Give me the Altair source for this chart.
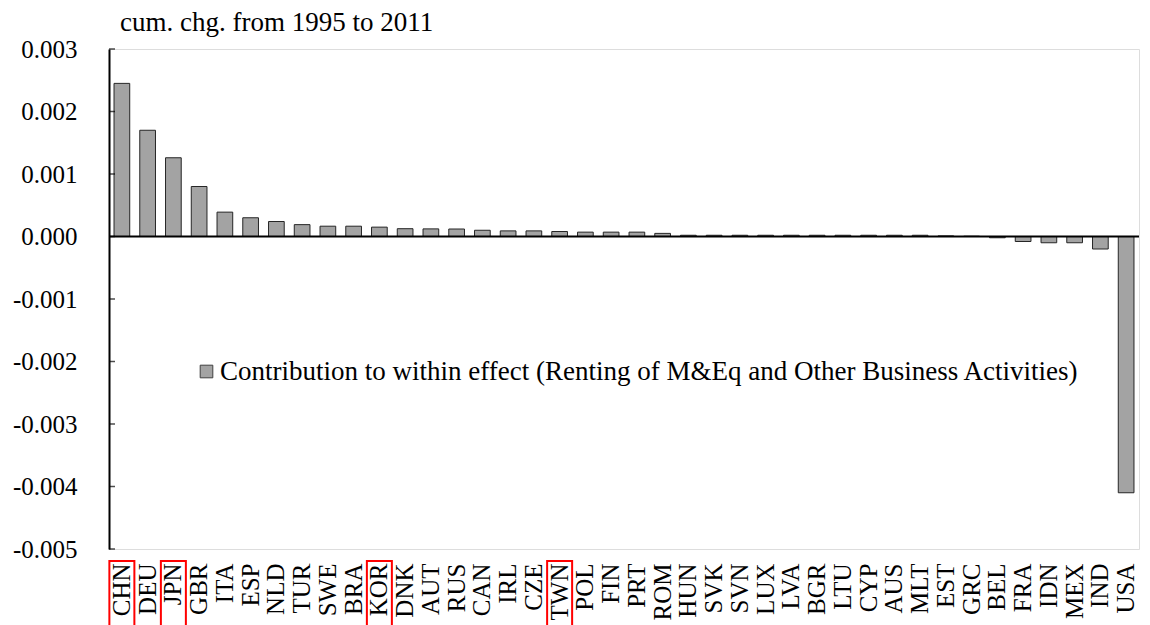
import altair as alt
import pandas as pd

countries = ["CHN", "DEU", "JPN", "GBR", "ITA", "ESP", "NLD", "TUR", "SWE", "BRA",
             "KOR", "DNK", "AUT", "RUS", "CAN", "IRL", "CZE", "TWN", "POL", "FIN",
             "PRT", "ROM", "HUN", "SVK", "SVN", "LUX", "LVA", "BGR", "LTU", "CYP",
             "AUS", "MLT", "EST", "GRC", "BEL", "FRA", "IDN", "MEX", "IND", "USA"]
values = [0.00245, 0.0017, 0.00126, 0.0008, 0.00039, 0.0003, 0.00024, 0.00019, 0.000165, 0.000165,
          0.00015, 0.000125, 0.000122, 0.00012, 0.0001, 0.00009, 0.00009, 0.00008, 0.00007, 0.00007,
          0.00007, 0.00005, 0.00002, 0.00002, 0.00002, 0.00002, 0.00002, 0.00002, 0.00002, 0.00002,
          0.00002, 0.00002, 0.00001, 0.000005, -0.00002, -0.00008, -0.0001, -0.0001, -0.0002, -0.0041]
highlighted = ["CHN", "JPN", "KOR", "TWN"]
y_ticks = [-0.005, -0.004, -0.003, -0.002, -0.001, 0.0, 0.001, 0.002, 0.003]
series_name = "Contribution to within effect (Renting of M&Eq and Other Business Activities)"
title_text = "cum. chg. from 1995 to 2011"

FONT = "Liberation Serif"

df = pd.DataFrame({"country": countries, "value": values, "series": [series_name] * len(countries)})
df_hl = pd.DataFrame({"country": highlighted})
df_ticks = pd.DataFrame({"v": y_ticks})
df_zero = pd.DataFrame({"v": [0.0]})

yscale = alt.Scale(domain=[-0.005, 0.003], nice=False, zero=False)
xscale = alt.Scale(domain=countries, paddingInner=0.39, paddingOuter=0.195)

x_enc = alt.X("country:N", sort=countries, scale=xscale,
              axis=alt.Axis(title=None, labelAngle=270, labelAlign="right", labelBaseline="middle",
                            labelFont=FONT, labelFontSize=25, labelColor="black", labelPadding=14,
                            ticks=False, domain=False, labelOverlap=False))

bars = alt.Chart(df).mark_bar(stroke="#262626", strokeWidth=1).encode(
    x=x_enc,
    y=alt.Y("value:Q", scale=yscale,
            axis=alt.Axis(title=None, values=y_ticks, labelExpr="replace(format(datum.value, '.3f'), '\u2212', '-')",
                          labelFont=FONT, labelFontSize=25, labelColor="black", labelPadding=32,
                          ticks=False, grid=False, domain=True, domainColor="black", domainWidth=2)),
    color=alt.Color("series:N", scale=alt.Scale(range=["#a3a3a3"]),
                    legend=alt.Legend(title=None, orient="none", legendX=84, legendY=309,
                                      symbolType="square", symbolSize=160, symbolStrokeColor="#404040",
                                      symbolStrokeWidth=1, labelFont=FONT, labelFontSize=27,
                                      labelColor="black", labelOffset=0, labelLimit=2000, padding=0)),
)

zero = alt.Chart(df_zero).mark_rule(color="black", strokeWidth=2).encode(y=alt.Y("v:Q", scale=yscale))

ticks = alt.Chart(df_ticks).mark_tick(orient="horizontal", color="black", size=6, thickness=1.5).encode(
    y=alt.Y("v:Q", scale=yscale), x=alt.value(3))

boxes = alt.Chart(df_hl).mark_bar(size=25, filled=False, stroke="red", strokeWidth=2).encode(
    x=alt.X("country:N", sort=countries, scale=xscale),
    y=alt.value(512), y2=alt.value(640))

chart = alt.layer(bars, zero, ticks, boxes).properties(
    width=1030, height=500,
    title=alt.Title(title_text, anchor="start", frame="group", dx=11, font=FONT, fontSize=27,
                    fontWeight="normal", color="black", offset=0),
    padding={"left": 4, "top": 1, "right": 1, "bottom": 5},
).configure_view(stroke="black", strokeWidth=2).configure(background="white")

chart.save("out.html", embed_options={"renderer": "svg", "actions": False})
